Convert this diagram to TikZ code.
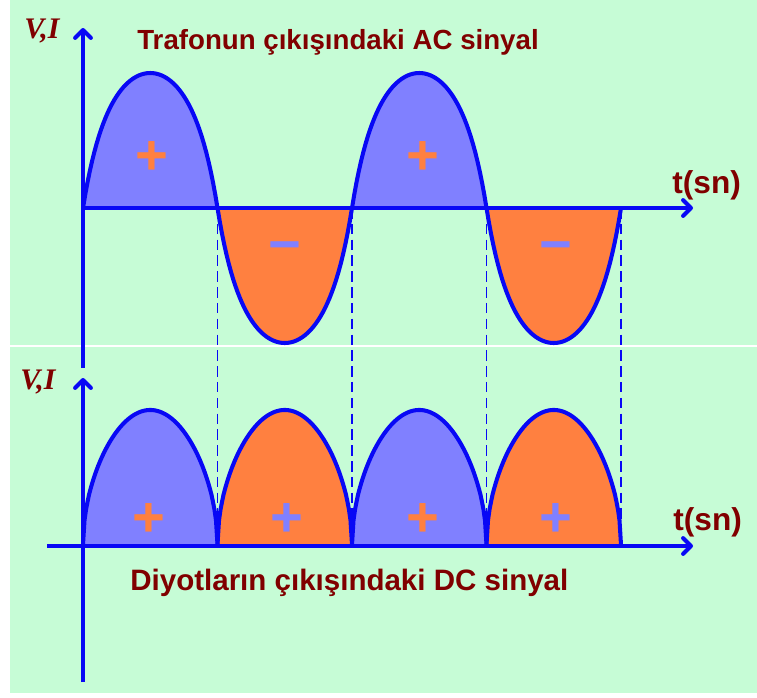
\documentclass[tikz,border=0pt]{standalone}
\usepackage{fontspec}
\setmainfont{Liberation Serif}
\setsansfont{Liberation Sans}
\usetikzlibrary{arrows.meta}
\definecolor{bgreen}{RGB}{198,252,214}
\definecolor{posfill}{RGB}{128,128,255}
\definecolor{negfill}{RGB}{255,128,64}
\definecolor{wave}{RGB}{8,8,245}
\definecolor{lbl}{RGB}{128,0,0}

\begin{document}
\begin{tikzpicture}[x=0.02cm,y=-0.02cm,
  axis/.style={wave,line width=2.3pt,-{Straight Barb[length=4.5pt,width=9pt,round]}},
  curve/.style={wave,line width=2.3pt,line join=round,line cap=round},
  guide/.style={wave,line width=0.6pt,dash pattern=on 6pt off 3pt},
  lab/.style={text=lbl,font=\sffamily\bfseries\fontsize{15.75}{18}\selectfont,inner sep=0pt},
  ttl/.style={lab,font=\sffamily\bfseries\fontsize{18}{20}\selectfont},
  vi/.style={text=lbl,font=\bfseries\itshape\fontsize{17}{18}\selectfont,inner sep=0pt},
  sign/.style={font=\sffamily\bfseries\fontsize{32}{32}\selectfont,inner sep=0pt}]
\useasboundingbox (0,0) rectangle (757,697);
\fill[bgreen] (10,0) rectangle (757,693);
\draw[white,line width=1pt] (10,346) -- (757,346);

% AC wave (top) and rectified wave (bottom), one half period at a time
\foreach \k/\c in {0/posfill,1/negfill,2/posfill,3/negfill} {
  \pgfmathsetmacro\xa{83+134.5*\k}
  \pgfmathsetmacro\xb{\xa+134.5}
  \fill[\c] plot[domain=\xa:\xb,samples=60] (\x,{208-270*sin((\x-83)/134.5*180)/(1+abs(sin((\x-83)/134.5*180)))}) -- cycle;
  \fill[\c] plot[domain=\xa:\xb,samples=90] (\x,{546-136*(abs(sin((\x-83)/134.5*180))+0.0001)^0.5}) -- cycle;
}
\foreach \i in {1,...,4} {
  \coordinate (a\i) at (83+134.5*\i,208);
  \coordinate (b\i) at (83+134.5*\i,546);
  \draw[guide] (a\i) -- (b\i);
}
\draw[curve] plot[domain=83:621,samples=241] (\x,{208-270*sin((\x-83)/134.5*180)/(1+abs(sin((\x-83)/134.5*180)))});
\foreach \k in {0,...,3} {
  \pgfmathsetmacro\xa{83+134.5*\k}
  \pgfmathsetmacro\xb{\xa+134.5}
  \draw[curve] plot[domain=\xa:\xb,samples=90] (\x,{546-136*(abs(sin((\x-83)/134.5*180))+0.0001)^0.5});
}

% axes
\coordinate (o1) at (83,208);
\coordinate (ytop1) at (83,28);
\coordinate (ybot1) at (83,368);
\coordinate (xend1) at (693,208);
\coordinate (o2) at (47,546);
\coordinate (ytop2) at (83,378);
\coordinate (ybot2) at (83,682);
\coordinate (xend2) at (693,546);
\draw[axis] (ybot1) -- (ytop1);
\draw[axis] (o1) -- (xend1);
\draw[axis] (ybot2) -- (ytop2);
\draw[axis] (o2) -- (xend2);

\node[sign,text=negfill] (p1) at (152,158) {+};
\node[sign,text=posfill] (m1) at (285,253) {−};
\node[sign,text=negfill] (p2) at (423,158) {+};
\node[sign,text=posfill] (m2) at (556,253) {−};
\node[sign,text=negfill] (q1) at (149,520) {+};
\node[sign,text=posfill] (q2) at (287,520) {+};
\node[sign,text=negfill] (q3) at (423,520) {+};
\node[sign,text=posfill] (q4) at (556,520) {+};

\node[lab,anchor=base west] (ac) at (137,49) {Trafonun çıkışındaki AC sinyal};
\node[lab,anchor=base west,font=\sffamily\bfseries\fontsize{16.8}{18}\selectfont] (dc) at (130,590) {Diyotların çıkışındaki DC sinyal};
\node[ttl,anchor=base west] (t1) at (672,193) {t(sn)};
\node[ttl,anchor=base west] (t2) at (673,530) {t(sn)};
\node[vi,anchor=base west] (vi1) at (24,38) {V,I};
\node[vi,anchor=base west] (vi2) at (20,389) {V,I};
\end{tikzpicture}
\end{document}
